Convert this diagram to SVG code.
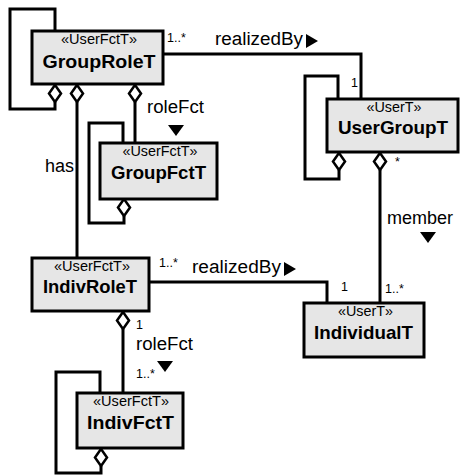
<svg xmlns="http://www.w3.org/2000/svg" width="461" height="475" viewBox="0 0 461 475">
<style>
.box{fill:#e6e6e6;stroke:#000;stroke-width:3}
.ln{fill:none;stroke:#000;stroke-width:3}
.dia{fill:#fff;stroke:#000;stroke-width:2.5}
.tri{fill:#000}
.st{font-family:"Liberation Sans",Arial,sans-serif;font-size:14px;text-anchor:middle}
.nm{font-family:"Liberation Sans",Arial,sans-serif;font-size:18.5px;font-weight:bold;text-anchor:middle}
.lb{font-family:"Liberation Sans",Arial,sans-serif;font-size:18px}
.mu{font-family:"Liberation Sans",Arial,sans-serif;font-size:12.5px}
</style>
<rect width="461" height="475" fill="#fff"/>
<g id="connectors">
  <!-- GroupRoleT self loop -->
  <path class="ln" d="M55,31 V9 H10 V109 H55 V102"/>
  <polygon class="dia" points="55,85 61,93.5 55,102 49,93.5"/>
  <!-- has -->
  <path class="ln" d="M77,102 V258"/>
  <polygon class="dia" points="77,85 83,93.5 77,102 71,93.5"/>
  <text class="lb" x="45" y="172">has</text>
  <!-- roleFct GroupRoleT-GroupFctT -->
  <path class="ln" d="M135,102 V143"/>
  <polygon class="dia" points="135,85 141,93.5 135,102 129,93.5"/>
  <text class="lb" x="147" y="113" textLength="57" lengthAdjust="spacingAndGlyphs">roleFct</text>
  <polygon class="tri" points="168,125 184,125 176,136"/>
  <!-- GroupFctT self loop -->
  <path class="ln" d="M123,143 V123 H89 V223 H124 V216"/>
  <polygon class="dia" points="124,199 130,207.5 124,216 118,207.5"/>
  <!-- realizedBy top -->
  <path class="ln" d="M163,54 H361 V99"/>
  <text class="mu" x="167" y="42">1..*</text>
  <text class="lb" x="215" y="45" textLength="88" lengthAdjust="spacingAndGlyphs">realizedBy</text>
  <polygon class="tri" points="306,34 318,41 306,48"/>
  <text class="mu" x="351" y="87">1</text>
  <!-- UserGroupT self loop -->
  <path class="ln" d="M338,99 V76 H305 V179 H339 V170"/>
  <polygon class="dia" points="339,153 345,161.5 339,170 333,161.5"/>
  <!-- member -->
  <path class="ln" d="M380,170 V303"/>
  <polygon class="dia" points="380,153 386,161.5 380,170 374,161.5"/>
  <text class="mu" x="395" y="166">*</text>
  <text class="lb" x="387" y="224">member</text>
  <polygon class="tri" points="420,232 436,232 428,243"/>
  <text class="mu" x="385" y="293">1..*</text>
  <!-- realizedBy bottom -->
  <path class="ln" d="M149,282 H327 V303"/>
  <text class="mu" x="159" y="267">1..*</text>
  <text class="lb" x="192" y="273" textLength="89" lengthAdjust="spacingAndGlyphs">realizedBy</text>
  <polygon class="tri" points="284,262 296,269 284,276"/>
  <text class="mu" x="341" y="291">1</text>
  <!-- roleFct IndivRoleT-IndivFctT -->
  <path class="ln" d="M123,329 V393"/>
  <polygon class="dia" points="123,312 129,320.5 123,329 117,320.5"/>
  <text class="mu" x="136" y="329">1</text>
  <text class="lb" x="136" y="350" textLength="57" lengthAdjust="spacingAndGlyphs">roleFct</text>
  <polygon class="tri" points="157,361 173,361 165,372"/>
  <text class="mu" x="136" y="378">1..*</text>
  <!-- IndivFctT self loop -->
  <path class="ln" d="M100,393 V372 H56 V473 H101 V466"/>
  <polygon class="dia" points="101,449 107,457.5 101,466 95,457.5"/>
</g>
<g id="GroupRoleT">
  <rect class="box" x="32" y="31" width="131" height="53"/>
  <text class="st" x="99" y="44" textLength="76" lengthAdjust="spacingAndGlyphs">«UserFctT»</text>
  <text class="nm" x="99" y="68" textLength="113" lengthAdjust="spacingAndGlyphs">GroupRoleT</text>
</g>
<g id="GroupFctT">
  <rect class="box" x="100" y="143" width="117" height="56"/>
  <text class="st" x="160" y="156" textLength="75" lengthAdjust="spacingAndGlyphs">«UserFctT»</text>
  <text class="nm" x="158.5" y="179" textLength="95" lengthAdjust="spacingAndGlyphs">GroupFctT</text>
</g>
<g id="UserGroupT">
  <rect class="box" x="327" y="99" width="131" height="53"/>
  <text class="st" x="394" y="112" textLength="55" lengthAdjust="spacingAndGlyphs">«UserT»</text>
  <text class="nm" x="393" y="134" textLength="110" lengthAdjust="spacingAndGlyphs">UserGroupT</text>
</g>
<g id="IndivRoleT">
  <rect class="box" x="32" y="258" width="117" height="53"/>
  <text class="st" x="92" y="271" textLength="76" lengthAdjust="spacingAndGlyphs">«UserFctT»</text>
  <text class="nm" x="90" y="293" textLength="94" lengthAdjust="spacingAndGlyphs">IndivRoleT</text>
</g>
<g id="IndividualT">
  <rect class="box" x="304" y="303" width="120" height="54"/>
  <text class="st" x="365.5" y="316" textLength="55" lengthAdjust="spacingAndGlyphs">«UserT»</text>
  <text class="nm" x="363.5" y="339" textLength="99" lengthAdjust="spacingAndGlyphs">IndividualT</text>
</g>
<g id="IndivFctT">
  <rect class="box" x="77" y="393" width="106" height="55"/>
  <text class="st" x="131" y="406" textLength="76" lengthAdjust="spacingAndGlyphs">«UserFctT»</text>
  <text class="nm" x="130.5" y="429" textLength="87" lengthAdjust="spacingAndGlyphs">IndivFctT</text>
</g>
</svg>
